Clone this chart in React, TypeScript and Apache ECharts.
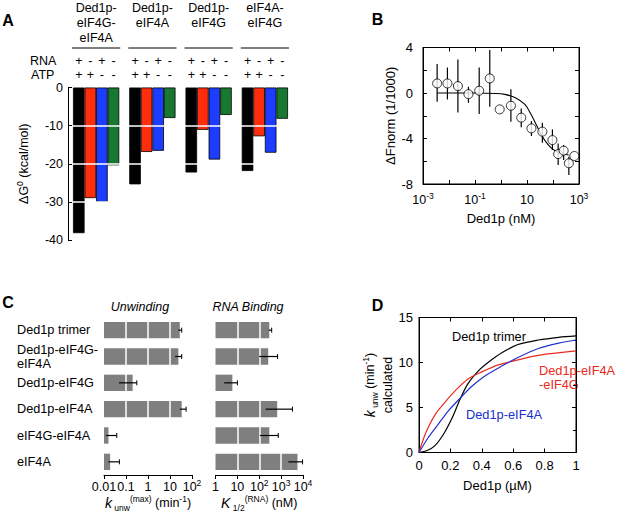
import React, { useEffect, useRef } from "react";
import * as echarts from "echarts";

const FONT = '"Liberation Sans", Arial, Helvetica, sans-serif';

// ---------- Panel A ----------
const A_GROUPS = ["Ded1p-\neIF4G-\neIF4A", "Ded1p-\neIF4A", "Ded1p-\neIF4G", "eIF4A-\neIF4G"];
const A_RNA_SIGNS = ["+", "-", "+", "-"];
const A_ATP_SIGNS = ["+", "+", "-", "-"];
const A_BLACK = [-38.2, -25.4, -22.3, -21.9]; // RNA+ ATP+
const A_RED = [-29.0, -16.9, -11.1, -12.8]; // RNA- ATP+
const A_BLUE = [-30.0, -16.6, -18.9, -17.1]; // RNA+ ATP-
const A_GREEN = [-20.4, -8.0, -7.2, -8.2]; // RNA- ATP-

// ---------- Panel B ----------
const B_X = [0.0035, 0.0087, 0.022, 0.056, 0.145, 0.37, 0.89, 2.4, 6.0, 14.8, 39, 95, 158, 257, 407, 660];
const B_Y = [0.84, 0.84, 0.61, -0.1, 0.2, 1.28, -1.44, -1.12, -2.17, -3.11, -3.4, -4.14, -5.37, -5.07, -6.18, -5.54];
const B_LO = [-0.77, -0.57, -1.71, -0.86, -1.85, -1.21, null, -2.53, -3.02, -3.78, -4.37, -5.01, -6.33, -5.89, -7.21, null];
const B_HI = [2.54, 2.24, 2.95, 0.55, 2.24, 3.77, null, 0.34, -1.36, -2.47, -2.61, -3.2, -4.43, -4.57, -5.6, null];
const B_FIT_X = [0.0035, 0.1, 0.6, 1.4, 3.4, 8.3, 14.8, 23, 36, 56, 89, 158, 400];
const B_FIT_Y = [0, 0, -0.04, -0.12, -0.39, -1.0, -1.94, -2.82, -3.7, -4.37, -4.87, -5.22, -5.45];
const B_X_TICKS = ["{n|10}{s|-3}", "", "{n|10}{s|-1}", "", "{n|10}", "", "{n|10}{s|3}"];
const B_Y_TICKS = ["-8", "", "-4", "", "0", "", "4"];

// ---------- Panel C ----------
const C_ROWS = ["Ded1p trimer", "Ded1p-eIF4G-\neIF4A", "Ded1p-eIF4G", "Ded1p-eIF4A", "eIF4G-eIF4A", "eIF4A"];
const C_UNW = [28, 24, 0.2, 34, 0.016, 0.019];
const C_UNW_LO = [24, 17, 0.048, 28, 0.0123, 0.016];
const C_UNW_HI = [34, 34, 0.31, 54, 0.038, 0.05];
const C_K = [287, 257, 5.9, 660, 288, 5600];
const C_K_LO = [270, 100, 2.5, 195, 107, 2140];
const C_K_HI = [370, 690, 10, 3300, 740, 9550];
const C_UNW_TICKS = ["{n|0.01}", "{n|0.1}", "{n|1}", "{n|10}", "{n|10}{s|2}"];
const C_K_TICKS = ["{n|1}", "{n|10}", "{n|10}{s|2}", "{n|10}{s|3}", "{n|10}{s|4}"];

// ---------- Panel D ----------
const D_TRIMER_X = [0, 0.049, 0.1, 0.155, 0.21, 0.26, 0.31, 0.38, 0.44, 0.53, 0.63, 0.76, 0.89, 1.0];
const D_TRIMER_Y = [0, 0.19, 0.74, 2.0, 3.8, 5.85, 7.6, 9.1, 10.0, 11.1, 12.0, 12.5, 12.8, 12.95];
const D_RED_X = [0, 0.028, 0.059, 0.11, 0.166, 0.23, 0.31, 0.4, 0.505, 0.61, 0.74, 0.87, 1.0];
const D_RED_Y = [0, 1.5, 2.8, 4.4, 5.6, 6.85, 8.15, 8.96, 9.74, 10.2, 10.74, 11.04, 11.3];
const D_BLUE_X = [0, 0.059, 0.123, 0.187, 0.26, 0.335, 0.42, 0.527, 0.63, 0.76, 0.89, 1.0];
const D_BLUE_Y = [0, 1.67, 3.15, 4.63, 6.0, 7.33, 8.5, 9.6, 10.55, 11.55, 12.15, 12.5];

const BLACK = "#000";
const RED_A = "#ff2d0c";
const BLUE_A = "#1c3cff";
const GREEN_A = "#17792f";
const RED_D = "#ea2a20";
const BLUE_D = "#2030cc";

const FS = 12.5;
const rich = {
  n: { fontSize: FS, lineHeight: 18, fontFamily: FONT, color: BLACK },
  s: { fontSize: 8.5, lineHeight: 10, verticalAlign: "top", fontFamily: FONT, color: BLACK },
  sub: { fontSize: 8.5, lineHeight: 10, verticalAlign: "bottom", fontFamily: FONT, color: BLACK },
  ki: { fontSize: 14, lineHeight: 18, fontStyle: "italic", fontFamily: FONT, color: BLACK },
};

const blackLine = { lineStyle: { color: BLACK, width: 1 } };

function buildOption() {
  const pair = (xs: number[], ys: number[]) => xs.map((x, i) => [x, ys[i]]);

  const aBar = (data: number[], color: string) => ({
    type: "bar",
    xAxisIndex: 0,
    yAxisIndex: 0,
    data,
    barGap: "0%",
    barCategoryGap: "17.8%",
    itemStyle: { color, borderColor: BLACK, borderWidth: 0.8 },
  });

  const dLine = (xs: number[], ys: number[], color: string) => ({
    type: "line",
    xAxisIndex: 5,
    yAxisIndex: 5,
    data: pair(xs, ys),
    symbol: "none",
    smooth: 0.3,
    lineStyle: { color, width: 1.2 },
  });

  const cBars = (values: number[], xi: number) => ({
    type: "custom",
    xAxisIndex: xi,
    yAxisIndex: xi,
    silent: true,
    z: 2,
    data: values.map((v, i) => [v, i]),
    renderItem: (params: any, api: any) => {
      const p = api.coord([api.value(0), api.value(1)]);
      const h = (params.coordSys.height / C_ROWS.length) * 0.62;
      const x0 = params.coordSys.x;
      return { type: "rect", shape: { x: x0, y: p[1] - h / 2, width: p[0] - x0, height: h }, style: { fill: "#7f7f7f" } };
    },
  });

  const cErr = (lo: number[], hi: number[], xi: number) => ({
    type: "custom",
    xAxisIndex: xi,
    yAxisIndex: xi,
    silent: true,
    z: 10,
    data: lo.map((l, i) => [l, hi[i], i]),
    encode: { x: [0, 1], y: 2 },
    renderItem: (params: any, api: any) => {
      const a = api.coord([api.value(0), api.value(2)]);
      const b = api.coord([api.value(1), api.value(2)]);
      const cap = 2.5;
      return {
        type: "group",
        children: [
          { type: "line", shape: { x1: a[0], y1: a[1], x2: b[0], y2: b[1] }, style: { stroke: BLACK, lineWidth: 1.2 } },
          { type: "line", shape: { x1: b[0], y1: b[1] - cap, x2: b[0], y2: b[1] + cap }, style: { stroke: BLACK, lineWidth: 1 } },
        ],
      };
    },
  });

  const letter = (t: string, x: number, y: number) => ({
    type: "text",
    x,
    y,
    style: { text: t, fontSize: 16, fontWeight: "bold", fontFamily: FONT, fill: BLACK, align: "center", verticalAlign: "middle" },
  });

  return {
    animation: false,
    textStyle: { fontFamily: FONT, color: BLACK },
    grid: [
      { left: 68, top: 87.5, width: 225, height: 152.5 },
      { left: 423, top: 47.5, width: 156, height: 136.5, show: true, borderColor: BLACK, borderWidth: 1, backgroundColor: "transparent" },
      { left: 104, top: 317, width: 88, height: 158 },
      { left: 215.5, top: 317, width: 87.5, height: 158 },
      { left: 419, top: 317.5, width: 157, height: 135, show: true, borderColor: BLACK, borderWidth: 1, backgroundColor: "transparent" },
    ],
    xAxis: [
      {
        type: "category",
        gridIndex: 0,
        position: "top",
        data: A_GROUPS,
        axisLine: { show: false, onZero: false },
        axisTick: { show: false },
        axisLabel: { interval: 0, verticalAlign: "top", margin: 87, fontSize: FS, lineHeight: 15, color: BLACK, fontFamily: FONT },
      },
      {
        type: "log",
        gridIndex: 1,
        logBase: 10,
        min: 0.001,
        max: 1000,
        axisLine: { show: true, onZero: false, ...blackLine },
        axisTick: { show: true, inside: true, length: 4, ...blackLine },
        axisLabel: { formatter: (v: number, i: number) => B_X_TICKS[i] ?? "", rich, margin: 7, color: BLACK },
        splitLine: { show: false },
        name: "Ded1p (nM)",
        nameLocation: "middle",
        nameGap: 28,
        nameTextStyle: { fontSize: 13, color: BLACK, fontFamily: FONT },
      },
      {
        type: "log",
        gridIndex: 1,
        logBase: 10,
        min: 0.001,
        max: 1000,
        position: "top",
        axisLine: { show: true, onZero: false, ...blackLine },
        axisTick: { show: true, inside: true, length: 4, ...blackLine },
        axisLabel: { show: false },
        splitLine: { show: false },
      },
      {
        type: "log",
        gridIndex: 2,
        logBase: 10,
        min: 0.01,
        max: 100,
        z: 5,
        axisLine: { show: true, onZero: false, ...blackLine },
        axisTick: { show: true, inside: false, length: 4, ...blackLine },
        axisLabel: { formatter: (v: number, i: number) => C_UNW_TICKS[i] ?? "", rich, margin: 3, color: BLACK },
        splitLine: { show: true, showMinLine: false, showMaxLine: false, lineStyle: { color: "#fff", width: 1.5 } },
        name: "{ki|k}{sub| unw}{s|(max)}{n| (min}{s|-1}{n|)}",
        nameLocation: "middle",
        nameGap: 18,
        nameTextStyle: { rich },
      },
      {
        type: "log",
        gridIndex: 3,
        logBase: 10,
        min: 1,
        max: 10000,
        z: 5,
        axisLine: { show: true, onZero: false, ...blackLine },
        axisTick: { show: true, inside: false, length: 4, ...blackLine },
        axisLabel: { formatter: (v: number, i: number) => C_K_TICKS[i] ?? "", rich, margin: 3, color: BLACK },
        splitLine: { show: true, showMinLine: false, showMaxLine: false, lineStyle: { color: "#fff", width: 1.5 } },
        name: "{ki|K}{sub| 1/2}{s|(RNA)}{n| (nM)}",
        nameLocation: "middle",
        nameGap: 18,
        nameTextStyle: { rich },
      },
      {
        type: "value",
        gridIndex: 4,
        min: 0,
        max: 1,
        interval: 0.2,
        axisLine: { show: true, onZero: false, ...blackLine },
        axisTick: { show: true, inside: true, length: 4, ...blackLine },
        axisLabel: { fontSize: 13, margin: 6, color: BLACK, fontFamily: FONT },
        splitLine: { show: false },
        name: "Ded1p (µM)",
        nameLocation: "middle",
        nameGap: 26,
        nameTextStyle: { fontSize: 13, color: BLACK, fontFamily: FONT },
      },
      {
        type: "value",
        gridIndex: 4,
        min: 0,
        max: 1,
        interval: 0.2,
        position: "top",
        axisLine: { show: true, onZero: false, ...blackLine },
        axisTick: { show: true, inside: true, length: 4, ...blackLine },
        axisLabel: { show: false },
        splitLine: { show: false },
      },
    ],
    yAxis: [
      {
        type: "value",
        gridIndex: 0,
        min: -40,
        max: 0,
        interval: 10,
        z: 5,
        axisLine: { show: true, onZero: false, ...blackLine },
        axisTick: { show: true, inside: true, length: 4, ...blackLine },
        axisLabel: { fontSize: FS, margin: 5, color: BLACK, fontFamily: FONT },
        splitLine: { show: true, showMinLine: false, showMaxLine: false, lineStyle: { color: "#fff", width: 1.5 } },
        name: "{n|ΔG}{s|0}{n| (kcal/mol)}",
        nameLocation: "middle",
        nameGap: 35,
        nameTextStyle: { rich },
      },
      {
        type: "value",
        gridIndex: 1,
        min: -8,
        max: 4,
        interval: 2,
        axisLine: { show: true, onZero: false, ...blackLine },
        axisTick: { show: true, inside: true, length: 4, ...blackLine },
        axisLabel: { formatter: (v: number, i: number) => B_Y_TICKS[i] ?? "", fontSize: 13, margin: 10, color: BLACK, fontFamily: FONT },
        splitLine: { show: false },
        name: "ΔFnorm (1/1000)",
        nameLocation: "middle",
        nameGap: 26,
        nameTextStyle: { fontSize: 13, color: BLACK, fontFamily: FONT },
      },
      {
        type: "value",
        gridIndex: 1,
        min: -8,
        max: 4,
        interval: 2,
        position: "right",
        axisLine: { show: true, onZero: false, ...blackLine },
        axisTick: { show: true, inside: true, length: 4, ...blackLine },
        axisLabel: { show: false },
        splitLine: { show: false },
      },
      {
        type: "category",
        gridIndex: 2,
        data: C_ROWS,
        inverse: true,
        axisLine: { show: false },
        axisTick: { show: false },
        axisLabel: { interval: 0, align: "left", margin: 87, fontSize: 12.7, lineHeight: 14, color: BLACK, fontFamily: FONT },
      },
      {
        type: "category",
        gridIndex: 3,
        data: C_ROWS,
        inverse: true,
        show: false,
      },
      {
        type: "value",
        gridIndex: 4,
        min: 0,
        max: 15,
        interval: 5,
        axisLine: { show: true, onZero: false, ...blackLine },
        axisTick: { show: true, inside: true, length: 4, ...blackLine },
        axisLabel: { fontSize: 13, margin: 6, color: BLACK, fontFamily: FONT },
        splitLine: { show: false },
        name: "{ki|k}{sub| unw}{n| (min}{s|-1}{n|)}\n{n|calculated}",
        nameLocation: "middle",
        nameGap: 22,
        nameTextStyle: { rich },
      },
      {
        type: "value",
        gridIndex: 4,
        min: 0,
        max: 15,
        interval: 5,
        position: "right",
        axisLine: { show: true, onZero: false, ...blackLine },
        axisTick: { show: true, inside: true, length: 4, ...blackLine },
        minorTick: { show: true, splitNumber: 2, length: 3, lineStyle: { color: BLACK } },
        axisLabel: { show: false },
        splitLine: { show: false },
      },
    ],
    series: [
      // Panel A bars
      aBar(A_BLACK, BLACK),
      aBar(A_RED, RED_A),
      aBar(A_BLUE, BLUE_A),
      aBar(A_GREEN, GREEN_A),
      // Panel A header: underlines and +/- signs
      {
        type: "custom",
        xAxisIndex: 0,
        yAxisIndex: 0,
        silent: true,
        clip: false,
        data: A_GROUPS.map((_, i) => [i, 0]),
        renderItem: (params: any, api: any) => {
          const c = api.coord([api.value(0), 0]);
          const band = params.coordSys.width / A_GROUPS.length;
          const groupW = band * (1 - 0.178);
          const barW = groupW / 4;
          const top = params.coordSys.y;
          const children: any[] = [
            {
              type: "line",
              shape: { x1: c[0] - groupW / 2 - 1, y1: top - 39.5, x2: c[0] + groupW / 2 + 1, y2: top - 39.5 },
              style: { stroke: BLACK, lineWidth: 1 },
            },
          ];
          for (let j = 0; j < 4; j++) {
            const x = c[0] - groupW / 2 + barW * (j + 0.5);
            children.push({
              type: "text",
              style: { text: A_RNA_SIGNS[j], x, y: top - 26.5, fill: BLACK, fontSize: FS, fontFamily: FONT, align: "center", verticalAlign: "middle" },
            });
            children.push({
              type: "text",
              style: { text: A_ATP_SIGNS[j], x, y: top - 13, fill: BLACK, fontSize: FS, fontFamily: FONT, align: "center", verticalAlign: "middle" },
            });
          }
          return { type: "group", children };
        },
      },
      // Panel B error bars
      {
        type: "custom",
        xAxisIndex: 1,
        yAxisIndex: 1,
        silent: true,
        z: 2,
        data: B_X.map((x, i) => [x, B_LO[i], B_HI[i]]).filter((d) => d[1] !== null),
        renderItem: (params: any, api: any) => {
          const p1 = api.coord([api.value(0), api.value(1)]);
          const p2 = api.coord([api.value(0), api.value(2)]);
          return {
            type: "line",
            shape: { x1: p1[0], y1: p1[1], x2: p2[0], y2: p2[1] },
            style: { stroke: BLACK, lineWidth: 1.2 },
          };
        },
      },
      // Panel B fit
      {
        type: "line",
        xAxisIndex: 1,
        yAxisIndex: 1,
        data: pair(B_FIT_X, B_FIT_Y),
        symbol: "none",
        smooth: 0.35,
        lineStyle: { color: BLACK, width: 1.1 },
        z: 3,
      },
      // Panel B points
      {
        type: "scatter",
        xAxisIndex: 1,
        yAxisIndex: 1,
        data: pair(B_X, B_Y),
        symbol: "circle",
        symbolSize: 9,
        itemStyle: { color: "#fff", borderColor: BLACK, borderWidth: 1 },
        z: 4,
      },
      // Panel C bars and error bars
      cBars(C_UNW, 3),
      cBars(C_K, 4),
      cErr(C_UNW_LO, C_UNW_HI, 3),
      cErr(C_K_LO, C_K_HI, 4),
      // Panel D curves
      dLine(D_TRIMER_X, D_TRIMER_Y, BLACK),
      dLine(D_RED_X, D_RED_Y, RED_D),
      dLine(D_BLUE_X, D_BLUE_Y, BLUE_D),
    ],
    graphic: [
      letter("A", 8, 20),
      letter("B", 377.5, 19),
      letter("C", 8, 302.5),
      letter("D", 377.5, 305.5),
      { type: "text", x: 30, y: 61, style: { text: "RNA", fontSize: FS, fontFamily: FONT, fill: BLACK, align: "left", verticalAlign: "middle" } },
      { type: "text", x: 31, y: 74.5, style: { text: "ATP", fontSize: FS, fontFamily: FONT, fill: BLACK, align: "left", verticalAlign: "middle" } },
      { type: "text", x: 140, y: 307, style: { text: "Unwinding", fontSize: FS, fontStyle: "italic", fontFamily: FONT, fill: BLACK, align: "center", verticalAlign: "middle" } },
      { type: "text", x: 248, y: 307, style: { text: "RNA Binding", fontSize: FS, fontStyle: "italic", fontFamily: FONT, fill: BLACK, align: "center", verticalAlign: "middle" } },
      { type: "text", x: 489, y: 336, style: { text: "Ded1p trimer", fontSize: 12.8, fontFamily: FONT, fill: BLACK, align: "center", verticalAlign: "middle" } },
      { type: "text", x: 539, y: 363.5, style: { text: "Ded1p-eIF4A\n-eIF4G", fontSize: 12.8, lineHeight: 14.3, fontFamily: FONT, fill: RED_D, align: "left", verticalAlign: "top" } },
      { type: "text", x: 466, y: 414, style: { text: "Ded1p-eIF4A", fontSize: 12.8, fontFamily: FONT, fill: BLUE_D, align: "left", verticalAlign: "middle" } },
    ],
  };
}

export default function App() {
  const ref = useRef<HTMLDivElement>(null);
  useEffect(() => {
    document.body.style.margin = "0";
    if (!ref.current) return;
    const chart = echarts.init(ref.current, null, { renderer: "svg" });
    chart.setOption(buildOption() as any);
    return () => chart.dispose();
  }, []);
  return <div ref={ref} style={{ width: 617, height: 515 }} />;
}
